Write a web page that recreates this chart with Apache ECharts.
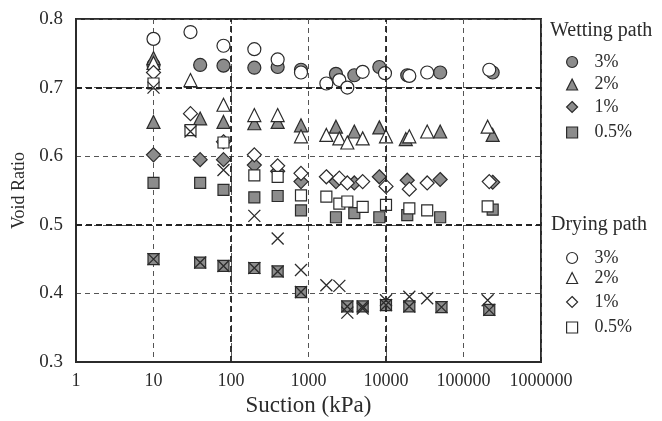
<!DOCTYPE html>
<html>
<head>
<meta charset="utf-8">
<script src="https://cdn.jsdelivr.net/npm/echarts@6/dist/echarts.min.js"></script>
<style>
  html, body { margin: 0; padding: 0; background: #fff; }
  #chart { width: 662px; height: 421px; }
</style>
</head>
<body>
<div id="chart"></div>
<script>
// Void ratio versus suction, wetting (filled) and drying (open) paths
// Each series is a list of [suction kPa, void ratio] pairs.
const wet3 = [[10,0.733],[40,0.733],[80,0.732],[200,0.729],[400,0.730],[800,0.726],[2260,0.720],[3900,0.718],[8200,0.730],[18800,0.718],[50000,0.722],[238000,0.722]];
const wet2 = [[10,0.743],[10,0.650],[40,0.655],[80,0.650],[200,0.648],[400,0.650],[800,0.645],[2260,0.643],[3900,0.636],[8200,0.642],[18000,0.625],[50000,0.636],[238000,0.631]];
const wet1 = [[10,0.602],[40,0.595],[80,0.595],[200,0.587],[400,0.578],[800,0.563],[2260,0.563],[3900,0.561],[8200,0.570],[18800,0.565],[50000,0.566],[238000,0.562]];
const wet05 = [[10,0.561],[40,0.561],[80,0.551],[200,0.540],[400,0.542],[800,0.521],[2260,0.511],[3900,0.517],[8200,0.511],[18800,0.514],[50000,0.511],[238000,0.522]];
const wet0 = [[10,0.450],[40,0.445],[80,0.440],[200,0.437],[400,0.432],[800,0.402],[3170,0.381],[5000,0.381],[10000,0.383],[20000,0.381],[52000,0.380],[215000,0.376]];

const dry3 = [[10,0.771],[30,0.781],[80,0.761],[200,0.756],[400,0.741],[800,0.722],[1700,0.706],[2500,0.711],[3170,0.700],[5000,0.723],[9700,0.721],[20000,0.717],[34000,0.722],[215000,0.726]];
const dry2 = [[10,0.736],[30,0.711],[80,0.675],[200,0.660],[400,0.660],[800,0.629],[1700,0.631],[2500,0.626],[3170,0.620],[5000,0.626],[10000,0.629],[20000,0.629],[34000,0.636],[205000,0.643]];
const dry1 = [[10,0.722],[30,0.662],[80,0.621],[200,0.602],[400,0.586],[800,0.575],[1700,0.570],[2500,0.568],[3170,0.561],[5000,0.563],[10000,0.556],[20000,0.552],[34000,0.561],[215000,0.563]];
const dry05 = [[10,0.706],[30,0.638],[80,0.620],[200,0.572],[400,0.570],[800,0.543],[1700,0.541],[2500,0.531],[3170,0.534],[5000,0.526],[10000,0.529],[20000,0.524],[34000,0.521],[205000,0.527]];
const dry0 = [[10,0.700],[30,0.636],[80,0.580],[200,0.513],[400,0.480],[800,0.434],[1700,0.412],[2500,0.411],[3170,0.372],[5000,0.378],[10000,0.390],[20000,0.395],[34000,0.393],[205000,0.390]];

const pctLabels = ['3%', '2%', '1%', '0.5%'];
const xTicks = [1, 10, 100, 1000, 10000, 100000, 1000000];
const yTicks = [0.3, 0.4, 0.5, 0.6, 0.7, 0.8];
const heavyX = [100, 10000];
const heavyY = [0.5, 0.7];

const FONT = '"Liberation Serif", "Times New Roman", serif';
const INK = '#2b2b2b';
const GREY = '#8c8c8c';
const CROSS = 'path://M0,0L10,10M10,0L0,10';

function filled(name, data, symbol, size) {
  return {
    name: name, type: 'scatter', data: data, symbol: symbol, symbolSize: size,
    itemStyle: { color: GREY, borderColor: INK, borderWidth: 1.2, opacity: 1 },
    emphasis: { disabled: true }, z: 3
  };
}
function open(name, data, symbol, size) {
  return {
    name: name, type: 'scatter', data: data, symbol: symbol, symbolSize: size,
    itemStyle: { color: '#fff', borderColor: INK, borderWidth: 1.2, opacity: 1 },
    emphasis: { disabled: true }, z: 4
  };
}
function cross(name, data) {
  return {
    name: name, type: 'scatter', data: data, symbol: CROSS, symbolSize: 12,
    itemStyle: { color: 'none', borderColor: INK, borderWidth: 1.3, opacity: 1 },
    emphasis: { disabled: true }, z: 6
  };
}

const wetNames = pctLabels.map(p => 'W ' + p);
const dryNames = pctLabels.map(p => 'D ' + p);

const series = [
  // heavy reference grid lines
  {
    type: 'scatter', data: [], silent: true,
    markLine: {
      silent: true, symbol: 'none', label: { show: false },
      lineStyle: { color: '#222', width: 1.8, type: [6, 4] },
      data: heavyX.map(v => ({ xAxis: v })).concat(heavyY.map(v => ({ yAxis: v })))
    }, z: 1
  },
  filled(wetNames[0], wet3, 'circle', 13),
  filled(wetNames[1], wet2, 'triangle', 13),
  filled(wetNames[2], wet1, 'diamond', 14),
  filled(wetNames[3], wet05, 'rect', 11),
  filled('W 0%', wet0, 'rect', 11),
  open(dryNames[0], dry3, 'circle', 13),
  open(dryNames[1], dry2, 'triangle', 13),
  open(dryNames[2], dry1, 'diamond', 14),
  open(dryNames[3], dry05, 'rect', 11),
  cross('W 0% x', wet0),
  cross('D 0%', dry0)
];

// one legend entry per row so the rows can sit at their own heights
const wetRows = [57, 79.5, 102, 127.5];
const dryRows = [253, 273, 297, 322.5];
function legendRow(name, centerY, iconFill) {
  return {
    orient: 'vertical', left: 561, top: centerY - 9, itemGap: 0,
    itemWidth: 11, itemHeight: 11, selectedMode: false,
    data: [{ name: name, itemStyle: { color: iconFill, borderColor: INK, borderWidth: 1.2 } }],
    formatter: n => n.slice(2),
    textStyle: { fontFamily: FONT, fontSize: 18, color: INK, padding: [0, 0, 0, 12] }
  };
}

const chart = echarts.init(document.getElementById('chart'), null, { renderer: 'canvas' });
chart.setOption({
  animation: false,
  backgroundColor: '#fff',
  grid: {
    left: 76, right: 121, top: 19, bottom: 59, outerBoundsMode: 'none', containLabel: false,
    show: true, borderColor: INK, borderWidth: 2, backgroundColor: 'transparent'
  },
  xAxis: {
    type: 'log', logBase: 10, min: xTicks[0], max: xTicks[xTicks.length - 1],
    name: 'Suction (kPa)', nameLocation: 'middle', nameGap: 20,
    nameTextStyle: { fontFamily: FONT, fontSize: 23, color: INK },
    axisLine: { show: true, lineStyle: { color: INK, width: 2 } },
    axisTick: { show: false },
    axisLabel: { margin: 10, fontFamily: FONT, fontSize: 18, color: INK, formatter: v => String(Math.round(v)) },
    splitLine: { show: true, lineStyle: { color: '#555', width: 1, type: [5, 4] } },
    minorTick: { show: false }
  },
  yAxis: {
    type: 'value', min: yTicks[0], max: yTicks[yTicks.length - 1], interval: 0.1,
    name: 'Void Ratio', nameLocation: 'middle', nameGap: 43,
    nameTextStyle: { fontFamily: FONT, fontSize: 18, color: INK },
    axisLine: { show: true, lineStyle: { color: INK, width: 2 } },
    axisTick: { show: false },
    axisLabel: { margin: 13, fontFamily: FONT, fontSize: 19, color: INK, formatter: v => v.toFixed(1) },
    splitLine: { show: true, lineStyle: { color: '#555', width: 1, type: [5, 4] } }
  },
  title: [
    { text: 'Wetting path', left: 550, top: 21, padding: 0, textStyle: { fontFamily: FONT, fontSize: 20, fontWeight: 'normal', color: INK } },
    { text: 'Drying path', left: 551, top: 215, padding: 0, textStyle: { fontFamily: FONT, fontSize: 20, fontWeight: 'normal', color: INK } }
  ],
  legend: wetNames.map((n, i) => legendRow(n, wetRows[i], GREY))
    .concat(dryNames.map((n, i) => legendRow(n, dryRows[i], '#fff'))),
  series: series
});
</script>
</body>
</html>
